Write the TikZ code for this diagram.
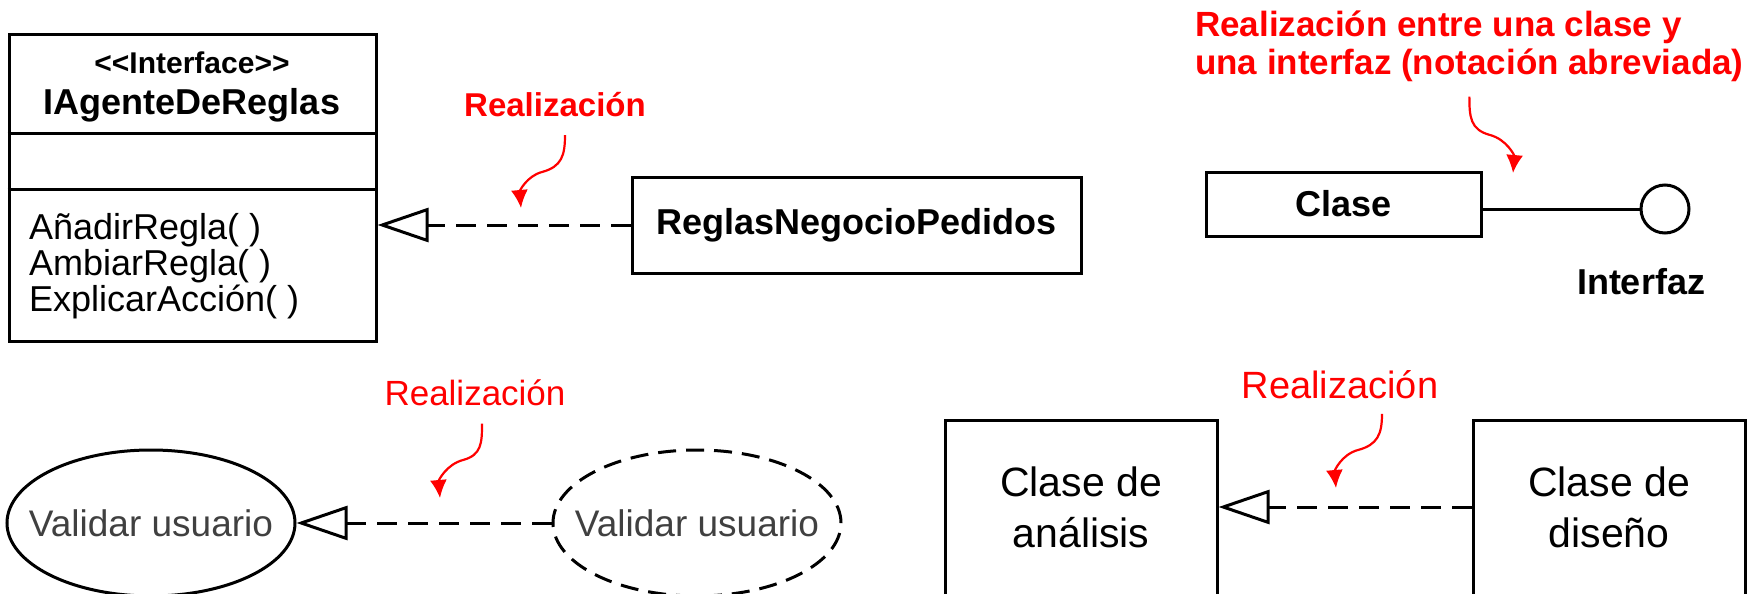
\documentclass[tikz,border=0pt]{standalone}
\usepackage{fontspec}
\setmainfont{Liberation Sans}
\usetikzlibrary{arrows.meta,shapes.geometric}

\begin{document}
\begin{tikzpicture}[x=0.5pt,y=-0.5pt,line width=1.5pt,
  caja/.style={draw,rectangle,inner sep=0pt},
  elipse/.style={draw,ellipse,inner sep=0pt,minimum width=144pt,minimum height=73pt},
  textocaso/.style={text=black!75,font=\fontsize{18.5}{18.5}\selectfont},
  realiza/.style={dash pattern=on 10pt off 5.5pt,-{Triangle[open,length=25.5pt,width=17pt]}},
  nota/.style={red,line width=1.1pt,-{Latex[length=9pt,width=8.5pt]}},
  negrita/.style={font=\fontsize{18}{18}\selectfont\bfseries}]
  \clip (0,0) rectangle (1752,594);
  % interfaz con sus compartimentos
  \node[caja,minimum width=183.5pt,minimum height=153.5pt] (iagente) at (192.5,187.5){};
  \draw (iagente.west |- 0,133) -- (iagente.east |- 0,133);
  \draw (iagente.west |- 0,189) -- (iagente.east |- 0,189);
  \node[font=\fontsize{15}{15}\selectfont\bfseries] (estereo) at (192,63){<{}<Interface>{}>};
  \node[negrita] (nombre) at (192,105){IAgenteDeReglas};
  \node[anchor=west,align=left,font=\fontsize{18}{18}\selectfont] (ops) at (21,266){A\~nadirRegla( )\\AmbiarRegla( )\\ExplicarAcci\'on( )};
  \node[caja,negrita,minimum width=224.5pt,minimum height=48pt] (reglas) at (856.5,225){ReglasNegocioPedidos};
  \draw[realiza] (reglas.west) -- (reglas.west -| iagente.east);
  \node[red,font=\fontsize{16.5}{16.5}\selectfont\bfseries] (etiqA) at (555,105){Realizaci\'on};
  \coordinate (puntaA) at (521,208);
  \draw[nota] ([xshift=5pt,yshift=-4.8pt]etiqA.south) to[out=-90,in=15,looseness=1.2] (542,172) to[out=195,in=95] (puntaA);
  % notacion abreviada
  \node[red,anchor=west,align=left,font=\fontsize{17.5}{19}\selectfont\bfseries] (etiqB) at (1187,46){Realizaci\'on entre una clase y\\una interfaz (notaci\'on abreviada)};
  \coordinate (puntaB) at (1513,173);
  \draw[nota] ([yshift=-3.5pt]etiqB.south) to[out=-90,in=165,looseness=1.2] (1490,135) to[out=-15,in=85] (puntaB);
  \node[caja,negrita,minimum width=137.5pt,minimum height=32pt] (clase) at (1343.5,204){Clase};
  \node[draw,circle,minimum size=24pt,inner sep=0pt] (ifaz) at (1665,209){};
  \draw (clase.east |- ifaz) -- (ifaz);
  \node[negrita] (ifazT) at (1641,282){Interfaz};
  % casos de uso
  \node[elipse,label={[textocaso]center:Validar usuario}] (validA) at (151,523){};
  \node[elipse,dash pattern=on 9pt off 5pt,label={[textocaso]center:Validar usuario}] (validB) at (697,523){};
  \draw[realiza] (validB) -- (validA);
  \node[red,font=\fontsize{17.5}{17.5}\selectfont] (etiqC) at (475,393){Realizaci\'on};
  \coordinate (puntaC) at (440,498);
  \draw[nota] ([xshift=3.5pt,yshift=-4.75pt]etiqC.south) to[out=-90,in=15,looseness=1.2] (463,460) to[out=195,in=95] (puntaC);
  % analisis y diseno
  \node[caja,minimum width=136pt,minimum height=100pt,anchor=north] (analisis) at (1081,419){};
  \node[align=center,font=\fontsize{20.5}{25.5}\selectfont] (analisisT) at (1081,507){Clase de\\an\'alisis};
  \node[caja,minimum width=136pt,minimum height=100pt,anchor=north] (diseno) at (1609,419){};
  \node[align=center,font=\fontsize{20.5}{25.5}\selectfont] (disenoT) at (1609,507){Clase de\\dise\~no};
  \draw[realiza] (disenoT -| diseno.west) -- (analisisT -| analisis.east);
  \node[red,font=\fontsize{19}{19}\selectfont] (etiqD) at (1340,385){Realizaci\'on};
  \coordinate (puntaD) at (1336,488);
  \draw[nota] ([xshift=21pt,yshift=-3.25pt]etiqD.south) to[out=-90,in=15,looseness=1.2] (1358,450) to[out=195,in=95] (puntaD);
\end{tikzpicture}
\end{document}
